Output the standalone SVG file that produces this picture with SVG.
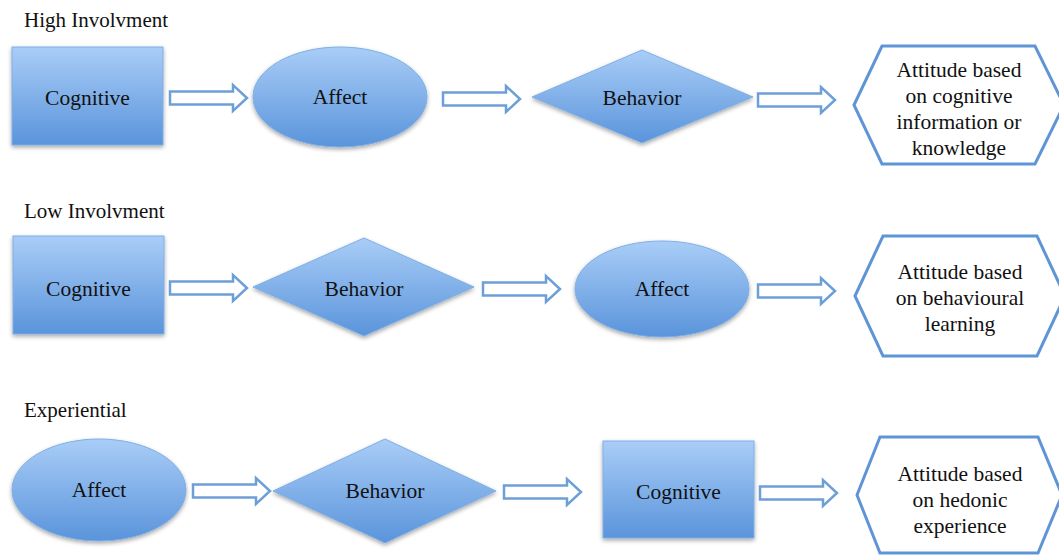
<svg xmlns="http://www.w3.org/2000/svg" width="1059" height="555" viewBox="0 0 1059 555">
  <defs>
    <linearGradient id="blueFill" x1="0" y1="0" x2="0" y2="1">
      <stop offset="0" stop-color="#a9cdf7"/>
      <stop offset="1" stop-color="#5a94db"/>
    </linearGradient>
    <filter id="shadow" x="-10%" y="-10%" width="120%" height="130%">
      <feDropShadow dx="0" dy="2" stdDeviation="2" flood-color="#000" flood-opacity="0.35"/>
    </filter>
    <path id="arrow" d="M0,-6.5 H63 V-13 L77,0 L63,13 V6.5 H0 Z"/>
  </defs>
  <style>
    .shape { fill: url(#blueFill); stroke: #7eaee6; stroke-width: 1; filter: url(#shadow); }
    .label { font-family: "Liberation Serif", "Times New Roman", serif; font-size: 21.5px; fill: #111; text-anchor: middle; }
    .title { font-family: "Liberation Serif", "Times New Roman", serif; font-size: 21px; fill: #111; }
    .outcome { fill: #fff; stroke: #5f95d6; stroke-width: 3; }
    .conn use { fill: #fff; stroke: #6c9fd8; stroke-width: 2.5; }
  </style>
  <rect width="1059" height="555" fill="#fff"/>

  <!-- row titles -->
  <text class="title" x="24" y="27">High Involvment</text>
  <text class="title" x="24" y="218">Low Involvment</text>
  <text class="title" x="24" y="417">Experiential</text>

  <!-- row 1: high involvement -->
  <g id="hi-cognitive">
    <rect class="shape" x="12" y="47" width="151" height="98"/>
    <text class="label" x="87.5" y="105">Cognitive</text>
  </g>
  <g id="hi-affect">
    <ellipse class="shape" cx="340" cy="97" rx="87" ry="50"/>
    <text class="label" x="340" y="104">Affect</text>
  </g>
  <g id="hi-behavior">
    <polygon class="shape" points="532,97 642,50 753,97 642,143"/>
    <text class="label" x="642" y="105">Behavior</text>
  </g>
  <g id="hi-attitude">
    <polygon class="outcome" points="854,105 882,46 1035,46 1064,105 1035,164 882,164"/>
    <text class="label" x="959" y="77">Attitude based</text>
    <text class="label" x="959" y="103">on cognitive</text>
    <text class="label" x="959" y="129">information or</text>
    <text class="label" x="959" y="155">knowledge</text>
  </g>

  <!-- row 2: low involvement -->
  <g id="lo-cognitive">
    <rect class="shape" x="13" y="236" width="151" height="98"/>
    <text class="label" x="88.5" y="296">Cognitive</text>
  </g>
  <g id="lo-behavior">
    <polygon class="shape" points="253,287 364,238 474,287 364,336"/>
    <text class="label" x="364" y="296">Behavior</text>
  </g>
  <g id="lo-affect">
    <ellipse class="shape" cx="662" cy="289" rx="87" ry="48"/>
    <text class="label" x="662" y="296">Affect</text>
  </g>
  <g id="lo-attitude">
    <polygon class="outcome" points="855,296 883,236 1037,236 1065,296 1037,356 883,356"/>
    <text class="label" x="960" y="279">Attitude based</text>
    <text class="label" x="960" y="305">on behavioural</text>
    <text class="label" x="960" y="331">learning</text>
  </g>

  <!-- row 3: experiential -->
  <g id="ex-affect">
    <ellipse class="shape" cx="99" cy="490" rx="87" ry="51"/>
    <text class="label" x="99" y="497">Affect</text>
  </g>
  <g id="ex-behavior">
    <polygon class="shape" points="273,491 385,439 496,491 385,543"/>
    <text class="label" x="385" y="498">Behavior</text>
  </g>
  <g id="ex-cognitive">
    <rect class="shape" x="603" y="441" width="151" height="97"/>
    <text class="label" x="678.5" y="499">Cognitive</text>
  </g>
  <g id="ex-attitude">
    <polygon class="outcome" points="857,495 880,437 1038,437 1062,495 1038,553 880,553"/>
    <text class="label" x="960" y="481">Attitude based</text>
    <text class="label" x="960" y="507">on hedonic</text>
    <text class="label" x="960" y="533">experience</text>
  </g>

  <!-- block arrows between stages -->
  <g id="connectors" class="conn">
    <use href="#arrow" x="170" y="98"/>
    <use href="#arrow" x="443" y="99"/>
    <use href="#arrow" x="758" y="100"/>
    <use href="#arrow" x="170" y="288"/>
    <use href="#arrow" x="483" y="289"/>
    <use href="#arrow" x="758" y="291"/>
    <use href="#arrow" x="193" y="491"/>
    <use href="#arrow" x="504" y="492"/>
    <use href="#arrow" x="760" y="493"/>
  </g>
</svg>
